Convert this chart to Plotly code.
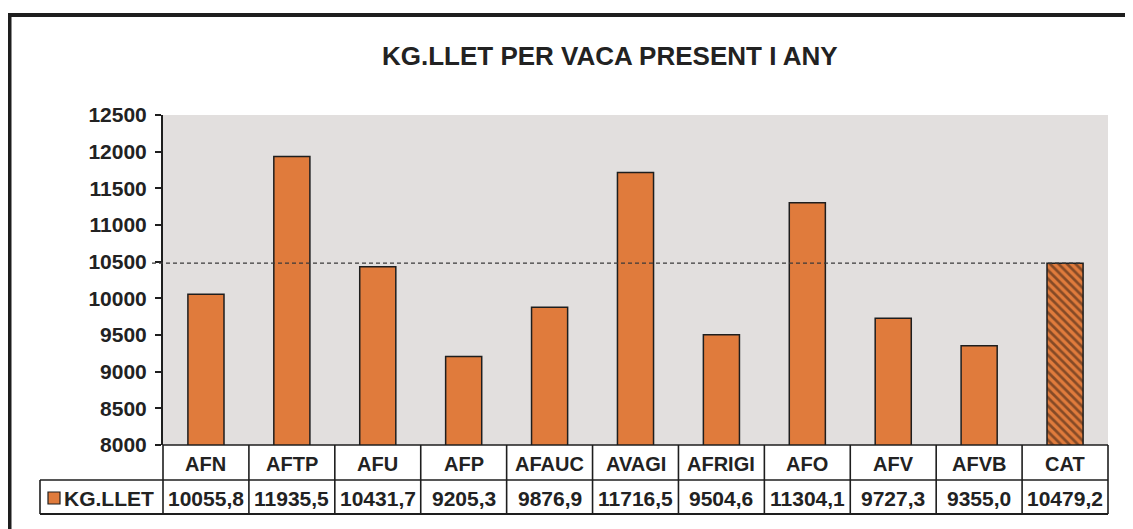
import plotly.graph_objects as go

categories = ["AFN", "AFTP", "AFU", "AFP", "AFAUC", "AVAGI", "AFRIGI", "AFO", "AFV", "AFVB", "CAT"]
kg_llet = [10055.8, 11935.5, 10431.7, 9205.3, 9876.9, 11716.5, 9504.6, 11304.1, 9727.3, 9355.0, 10479.2]
series_name = "KG.LLET"
title_text = "KG.LLET PER VACA PRESENT I ANY"
y_ticks = [8000, 8500, 9000, 9500, 10000, 10500, 11000, 11500, 12000, 12500]
y_tick_labels = ["8000", "8500", "9000", "9500", "10000", "10500", "11000", "11500", "12000", "12500"]

OFF = 8  # page body offset of the plot div
W, H = 1133 - OFF, 529 - OFF
# plot area in reference (page) pixels
L, R, T, B = 163, 1108, 115, 445

def px(x):
    return (x - L) / (R - L)

def py(y):
    return (B - y) / (B - T)

ORANGE = "#E07B3C"
DARK = "#1e1e1e"
TXT = "#222222"
FONT = "Liberation Sans"

n = len(categories)
fig = go.Figure()

fig.add_trace(go.Bar(
    x=categories[:-1], y=kg_llet[:-1], width=0.42,
    marker=dict(color=ORANGE, line=dict(color=DARK, width=1.5)),
    showlegend=False, hoverinfo="x+y",
))
fig.add_trace(go.Bar(
    x=categories[-1:], y=kg_llet[-1:], width=0.42,
    marker=dict(color=ORANGE, line=dict(color=DARK, width=1.5),
                pattern=dict(shape="\\", fgcolor="#2a1a10", bgcolor=ORANGE, size=6, solidity=0.45)),
    showlegend=False, hoverinfo="x+y",
))

shapes = []
# dashed line at the CAT value, drawn above bars
shapes.append(dict(type="line", xref="paper", yref="y", x0=px(152), x1=px(R - 43 + 18),
                   y0=kg_llet[-1], y1=kg_llet[-1],
                   line=dict(color="#3a3a3a", width=1.3, dash="4px,3px"), layer="above"))

# outer frame (left and top)
shapes.append(dict(type="line", xref="paper", yref="paper", x0=px(9.5), x1=px(9.5),
                   y0=py(13), y1=py(600), line=dict(color=DARK, width=4)))
shapes.append(dict(type="line", xref="paper", yref="paper", x0=px(7.5), x1=px(1200),
                   y0=py(15), y1=py(15), line=dict(color=DARK, width=4)))

# data table grid
tl = dict(color=DARK, width=1.6)
row1_top, row1_bot, row2_bot = 445, 480, 514
leg_left = 40
for i in range(n + 1):
    xp = i / n
    shapes.append(dict(type="line", xref="paper", yref="paper", x0=xp, x1=xp,
                       y0=py(row1_top), y1=py(row2_bot), line=tl))
shapes.append(dict(type="line", xref="paper", yref="paper", x0=0, x1=1,
                   y0=py(row1_top), y1=py(row1_top), line=tl))
shapes.append(dict(type="line", xref="paper", yref="paper", x0=px(leg_left), x1=1,
                   y0=py(row1_bot), y1=py(row1_bot), line=tl))
shapes.append(dict(type="line", xref="paper", yref="paper", x0=px(leg_left), x1=1,
                   y0=py(row2_bot), y1=py(row2_bot), line=dict(color=DARK, width=2.2)))
shapes.append(dict(type="line", xref="paper", yref="paper", x0=px(leg_left), x1=px(leg_left),
                   y0=py(row1_bot), y1=py(row2_bot), line=tl))
# legend key square
shapes.append(dict(type="rect", xref="paper", yref="paper", x0=px(48), x1=px(60),
                   y0=py(504), y1=py(492), fillcolor=ORANGE, line=dict(color=DARK, width=1.2)))

annotations = []
annotations.append(dict(text=title_text, xref="paper", yref="paper", x=px(610), y=py(56),
                        showarrow=False, xanchor="center", yanchor="middle",
                        font=dict(family=FONT, size=26, color=TXT, weight="bold")))
for c, v in zip(categories, kg_llet):
    annotations.append(dict(text=c, xref="x", yref="paper", x=c, y=py((row1_top + row1_bot) / 2 + 1),
                            showarrow=False, xanchor="center", yanchor="middle",
                            font=dict(family=FONT, size=20, color=TXT, weight="bold")))
    annotations.append(dict(text=f"{v:.1f}".replace(".", ","), xref="x", yref="paper", x=c,
                            y=py((row1_bot + row2_bot) / 2 + 1),
                            showarrow=False, xanchor="center", yanchor="middle",
                            font=dict(family=FONT, size=21, color=TXT, weight="bold")))
annotations.append(dict(text=series_name, xref="paper", yref="paper", x=px(62), y=py(498),
                        showarrow=False, xanchor="left", yanchor="middle",
                        font=dict(family=FONT, size=21, color=TXT, weight="bold")))

fig.update_layout(
    width=W, height=H,
    margin=dict(l=L - OFF, r=(W + OFF) - R, t=T - OFF, b=(H + OFF) - B, pad=0),
    paper_bgcolor="white",
    plot_bgcolor="#E2DFDE",
    shapes=shapes,
    annotations=annotations,
    showlegend=False,
    xaxis=dict(type="category", range=[-0.5, n - 0.5], showticklabels=False, ticks="",
               showgrid=False, zeroline=False, showline=False, fixedrange=True),
    yaxis=dict(range=[y_ticks[0], y_ticks[-1]], tickmode="array", tickvals=y_ticks,
               ticktext=y_tick_labels, showgrid=False, zeroline=False,
               showline=True, linecolor=DARK, linewidth=2, ticks="outside", ticklen=6,
               tickcolor=DARK, tickwidth=2, ticklabelstandoff=4,
               tickfont=dict(family=FONT, size=21, color=TXT, weight="bold")),
)

fig.write_html("out.html")
